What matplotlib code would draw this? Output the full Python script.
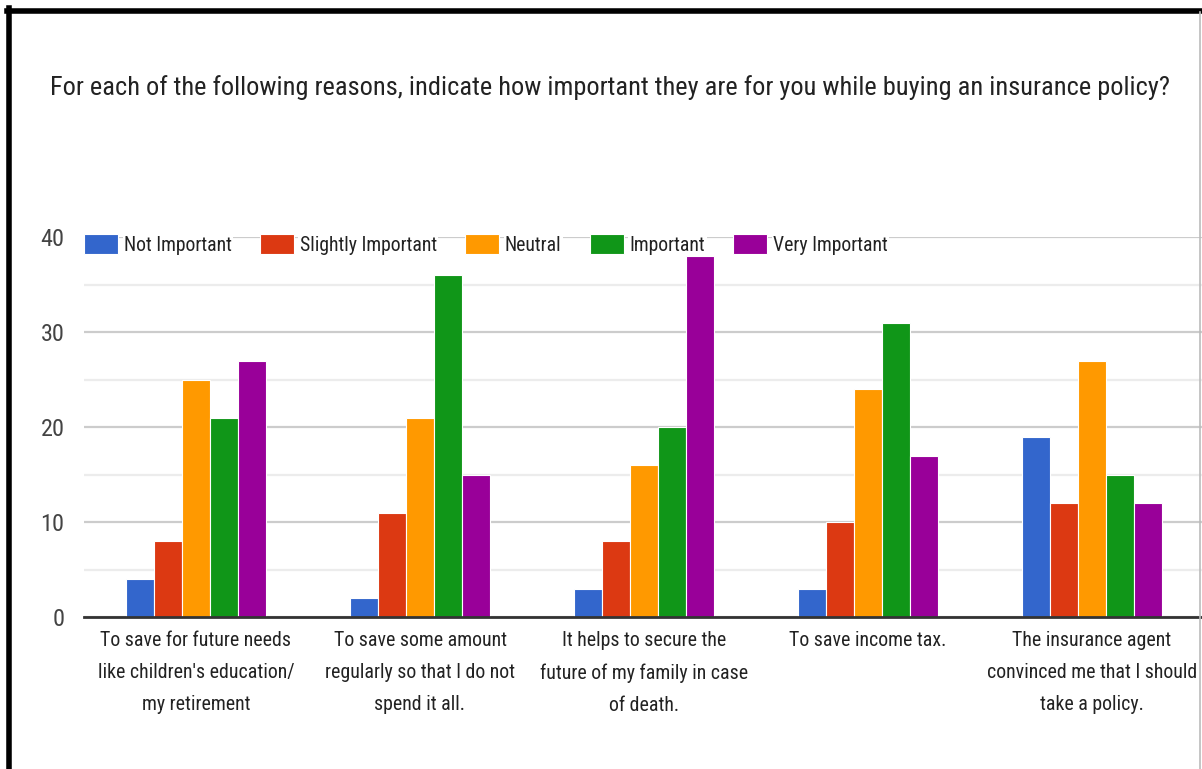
import matplotlib
matplotlib.use('Agg')
import matplotlib.pyplot as plt
import numpy as np
from matplotlib.lines import Line2D

plt.rcParams['font.family'] = ['Roboto Condensed', 'Roboto', 'DejaVu Sans']

TITLE = ('For each of the following reasons, indicate how important they are '
         'for you while buying an insurance policy?')

categories = [
    "To save for future needs\nlike children's education/\nmy retirement",
    "To save some amount\nregularly so that I do not\nspend it all.",
    "It helps to secure the\nfuture of my family in case\nof death.",
    "To save income tax.",
    "The insurance agent\nconvinced me that I should\ntake a policy.",
]
levels = ['Not Important', 'Slightly Important', 'Neutral', 'Important', 'Very Important']
colors = ['#3366cc', '#dc3912', '#ff9900', '#109618', '#990099']

not_important = [4, 2, 3, 3, 19]
slightly_important = [8, 11, 8, 10, 12]
neutral = [25, 21, 16, 24, 27]
important = [21, 36, 20, 31, 15]
very_important = [27, 15, 38, 17, 12]
series = [not_important, slightly_important, neutral, important, very_important]

W, H = 1202, 769
PX = 100 / 72  # pixels per point at dpi 100
fig = plt.figure(figsize=(W / 100, H / 100), dpi=100)
ax = fig.add_axes([84 / W, 1 - 617 / H, 1120 / W, 380 / H])

x = np.arange(len(categories))
bw = 0.125
for i, (vals, name, c) in enumerate(zip(series, levels, colors)):
    ax.bar(x + (i - 2) * bw, vals, width=bw, color=c, label=name,
           edgecolor='white', linewidth=0.8, zorder=3)

ax.set_xlim(-0.5, 4.5)
ax.set_ylim(0, 40)
ax.set_yticks([0, 10, 20, 30, 40])
ax.set_yticks([5, 15, 25, 35], minor=True)
ax.grid(axis='y', which='major', color='#cccccc', lw=1.6, zorder=0)
ax.grid(axis='y', which='minor', color='#ececec', lw=1.6, zorder=0)
ax.tick_params(axis='y', which='both', length=0, pad=14, labelsize=17.5,
               labelcolor='#444444')
ax.set_xticks(x)
ax.set_xticklabels(categories, fontsize=14.3, color='#222222', linespacing=1.87)
ax.tick_params(axis='x', length=0, pad=10)
for s in ['top', 'right', 'left']:
    ax.spines[s].set_visible(False)
ax.spines['bottom'].set_color('#333333')
ax.spines['bottom'].set_linewidth(2)
ax.spines['bottom'].set_zorder(4)

fs_leg = 14.2
leg = ax.legend(loc='upper left', bbox_to_anchor=(84 / W, 1 - 234 / H),
                bbox_transform=fig.transFigure, ncol=5, frameon=False,
                fontsize=fs_leg, handlelength=34 / (fs_leg * PX),
                handleheight=23 / (fs_leg * PX), handletextpad=6 / (fs_leg * PX),
                columnspacing=28 / (fs_leg * PX), borderaxespad=0, borderpad=0)
for t in leg.get_texts():
    t.set_color('#222222')
    t.set_bbox(dict(facecolor='white', edgecolor='none', pad=1))

fig.text(50 / W, 1 - 88 / H, TITLE, fontsize=19, color='#222222',
         ha='left', va='center')

# frame around the chart
fig.add_artist(Line2D([9 / W, 9 / W], [0, 1 - 8 / H], color='black', lw=4,
                      transform=fig.transFigure))
fig.add_artist(Line2D([7 / W, 1], [1 - 10.5 / H, 1 - 10.5 / H], color='black', lw=4,
                      transform=fig.transFigure))
fig.add_artist(Line2D([1200 / W, 1200 / W], [0, 1 - 12 / H], color='#bbbbbb', lw=1.2,
                      transform=fig.transFigure))

fig.savefig('out.png', dpi=100, facecolor='white')
